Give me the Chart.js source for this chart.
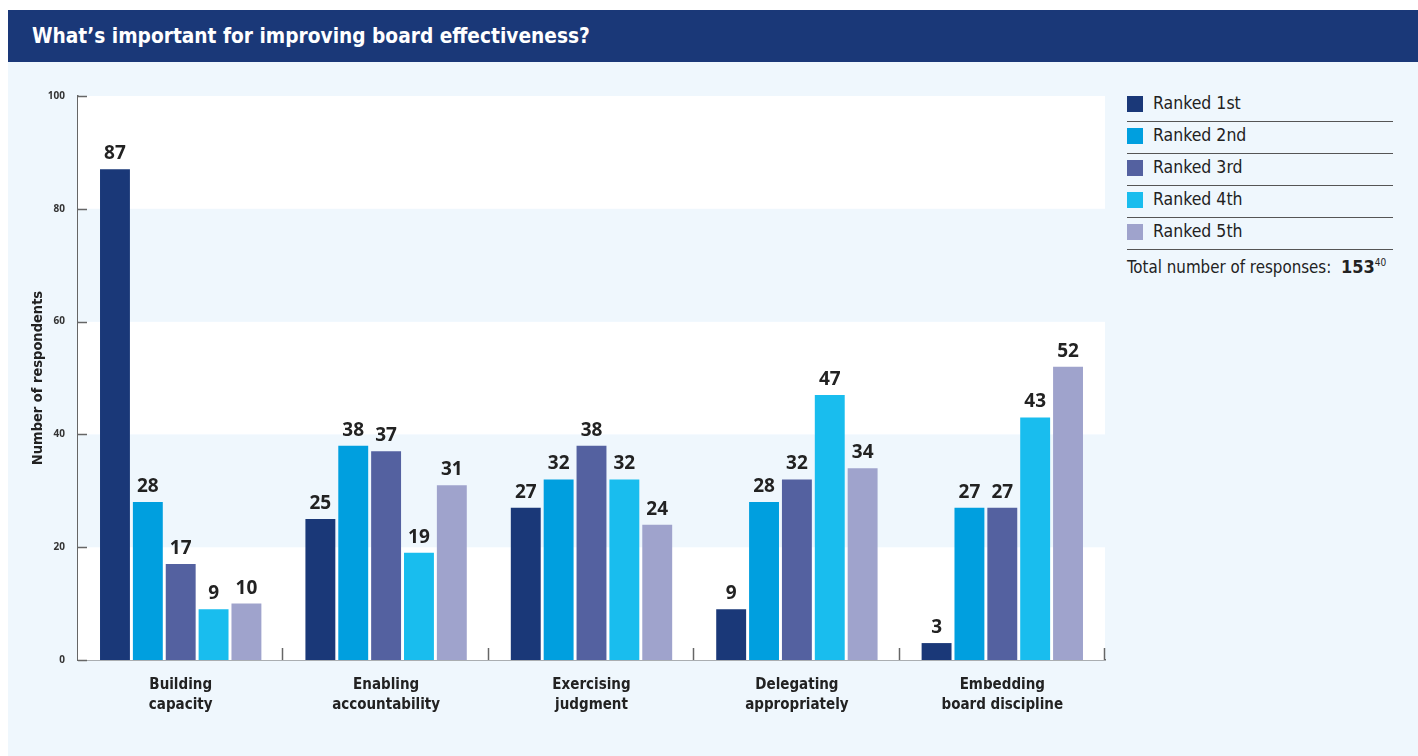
<!DOCTYPE html>
<html>
<head>
<meta charset="utf-8">
<script src="https://cdn.jsdelivr.net/npm/chart.js@4.4.1/dist/chart.umd.min.js"></script>
<style>
  body { margin: 0; width: 1418px; height: 756px; background: #fff; overflow: hidden;
         font-family: 'Liberation Sans Narrow', 'DejaVu Sans Condensed', sans-serif; }
  #panel { position: absolute; left: 8px; top: 10px; width: 1410px; height: 746px; background: #eff7fd; }
  #title { position: absolute; left: 0; top: 0; width: 100%; height: 52px; background: #1a3878; }
  #title span { position: absolute; left: 24px; top: 0; color: #fff; font-weight: bold; font-size: 22px;
                line-height: 52px; white-space: nowrap; transform: scaleX(0.94); transform-origin: left center; }
  #wrap { position: absolute; left: -8px; top: 52px; width: 1110px; height: 694px; }
  #legend { position: absolute; left: 1119px; top: 80px; width: 266px; }
  .item { position: relative; height: 31px; border-bottom: 1.5px solid #555; font-size: 17.5px; color: #222; }
  .item span.sw { position: absolute; left: 0; top: 6px; width: 16px; height: 16px; }
  .item span.tx { position: absolute; left: 26px; top: 3px; }
  #total { font-size: 16.8px; color: #222; margin-top: 6px; white-space: nowrap; }
  #total b { font-size: 18px; }
  #total sup { font-size: 10px; }
</style>
</head>
<body>
<div id="panel">
  <div id="title"><span>What’s important for improving board effectiveness?</span></div>
  <div id="wrap"><canvas id="chart"></canvas></div>
  <div id="legend"></div>
</div>
<script>
var categories = [
  ['Building', 'capacity'],
  ['Enabling', 'accountability'],
  ['Exercising', 'judgment'],
  ['Delegating', 'appropriately'],
  ['Embedding', 'board discipline']
];
var seriesNames = ['Ranked 1st', 'Ranked 2nd', 'Ranked 3rd', 'Ranked 4th', 'Ranked 5th'];
var ranked1 = [87, 25, 27, 9, 3];
var ranked2 = [28, 38, 32, 28, 27];
var ranked3 = [17, 37, 38, 32, 27];
var ranked4 = [9, 19, 32, 47, 43];
var ranked5 = [10, 31, 24, 34, 52];
var yTicks = [0, 20, 40, 60, 80, 100];
var totalResponses = 153;

var colors = ['#1a3878', '#009fdf', '#5461a0', '#19bdee', '#9fa3cc'];
var narrow = "'Liberation Sans Narrow', 'DejaVu Sans Condensed', sans-serif";

// legend on the right
var lg = document.getElementById('legend');
seriesNames.forEach(function(name, i) {
  var d = document.createElement('div');
  d.className = 'item';
  d.innerHTML = '<span class="sw" style="background:' + colors[i] + '"></span><span class="tx">' + name + '</span>';
  lg.appendChild(d);
});
var t = document.createElement('div');
t.id = 'total';
t.innerHTML = 'Total number of responses:&nbsp; <b>' + totalResponses + '</b><sup>40</sup>';
lg.appendChild(t);

// alternating bands, inner ticks and value labels
var decor = {
  id: 'decor',
  beforeDatasetsDraw: function(chart) {
    var ctx = chart.ctx, a = chart.chartArea, y = chart.scales.y;
    ctx.save();
    for (var i = 0; i < yTicks.length - 1; i++) {
      var top = y.getPixelForValue(yTicks[i + 1]), bot = y.getPixelForValue(yTicks[i]);
      ctx.fillStyle = (i % 2 === 0) ? '#ffffff' : '#eff7fd';
      ctx.fillRect(a.left, top, a.right - a.left, bot - top);
    }
    ctx.strokeStyle = '#666';
    ctx.lineWidth = 1.5;
    yTicks.forEach(function(v) {
      var py = Math.round(y.getPixelForValue(v)) + 0.5;
      ctx.beginPath(); ctx.moveTo(a.left, py); ctx.lineTo(a.left + 9, py); ctx.stroke();
    });
    var step = (a.right - a.left) / categories.length;
    for (var k = 1; k <= categories.length; k++) {
      var px = Math.round(a.left + step * k) - 0.5;
      ctx.beginPath(); ctx.moveTo(px, a.bottom); ctx.lineTo(px, a.bottom - 12); ctx.stroke();
    }
    ctx.restore();
  },
  afterDatasetsDraw: function(chart) {
    var ctx = chart.ctx;
    ctx.save();
    ctx.font = "bold 19px 'Noto Sans', 'Open Sans', sans-serif";
    ctx.fillStyle = '#222';
    ctx.textAlign = 'center';
    ctx.textBaseline = 'bottom';
    chart.data.datasets.forEach(function(ds, di) {
      chart.getDatasetMeta(di).data.forEach(function(bar, i) {
        ctx.fillText(ds.data[i], bar.x, bar.y - 6);
      });
    });
    ctx.restore();
  }
};

var allSeries = [ranked1, ranked2, ranked3, ranked4, ranked5];
var chart = new Chart(document.getElementById('chart'), {
  type: 'bar',
  data: {
    labels: categories,
    datasets: allSeries.map(function(vals, i) {
      return {
        label: seriesNames[i],
        data: vals,
        backgroundColor: colors[i],
        categoryPercentage: 0.8,
        barPercentage: 0.91
      };
    })
  },
  options: {
    responsive: true,
    maintainAspectRatio: false,
    animation: false,
    layout: { padding: { top: 34, right: 5, left: 30, bottom: 0 } },
    plugins: { legend: { display: false }, tooltip: { enabled: false } },
    scales: {
      y: {
        min: 0, max: 100,
        afterBuildTicks: function(s) { s.ticks = yTicks.map(function(v) { return { value: v }; }); },
        afterFit: function(s) { s.width = 48; },
        grid: { display: false },
        border: { color: '#666', width: 1.5 },
        ticks: { color: '#333', font: { family: "'Noto Sans', sans-serif", size: 10, weight: 'bold' }, padding: 5 },
        title: { display: true, text: 'Number of respondents', color: '#222',
                 font: { family: narrow, size: 14.5, weight: 'bold' }, padding: 0 }
      },
      x: {
        afterFit: function(s) { s.height = 96; },
        grid: { display: false },
        border: { color: '#666', width: 1.5 },
        ticks: { color: '#222', font: { family: narrow, size: 15, weight: 'bold', lineHeight: 1.35 },
                 padding: 7, maxRotation: 0 }
      }
    }
  },
  plugins: [decor]
});
</script>
</body>
</html>
